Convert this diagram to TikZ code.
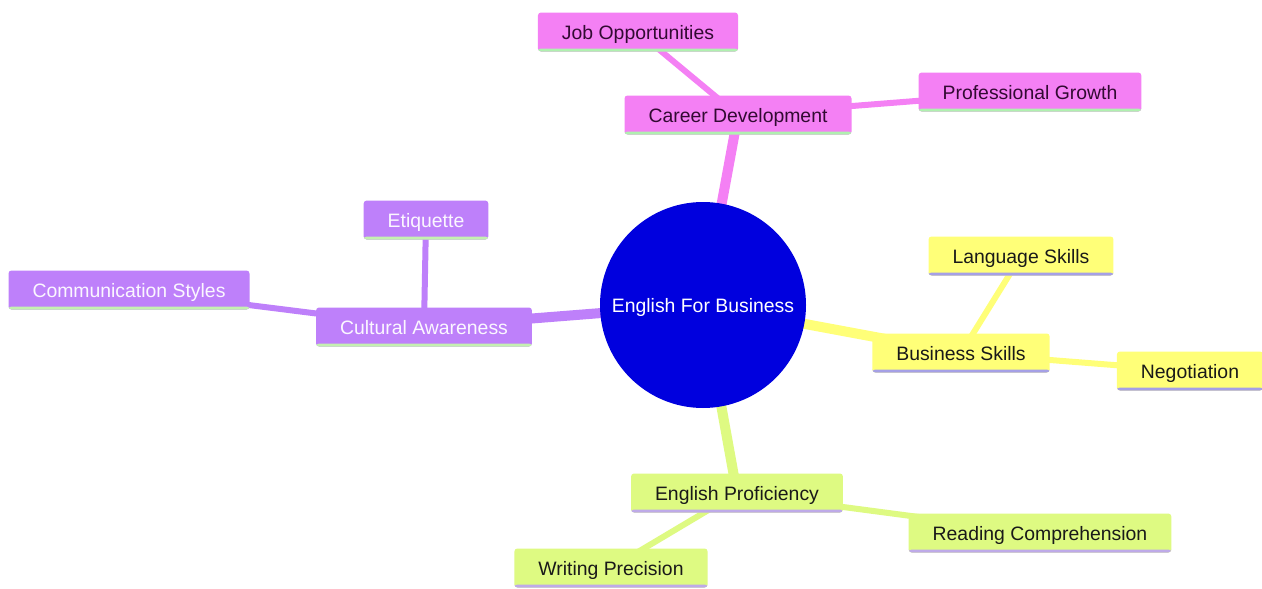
\documentclass[tikz,border=0pt]{standalone}
\usepackage{fontspec}
\setmainfont{Liberation Sans}
\definecolor{cpink}{RGB}{244,128,244}
\definecolor{cpinkt}{RGB}{50,10,50}
\definecolor{cpinkul}{RGB}{176,240,176}
\definecolor{cpurple}{RGB}{190,128,250}
\definecolor{cpurpleul}{RGB}{196,240,176}
\definecolor{cyellow}{RGB}{255,255,120}
\definecolor{cyellowul}{RGB}{165,160,230}
\definecolor{cgreen}{RGB}{222,250,130}
\definecolor{cgreenul}{RGB}{190,170,232}
\definecolor{cblue}{RGB}{0,0,222}
\pgfdeclarelayer{bg}
\pgfsetlayers{bg,main}
\begin{document}
\begin{tikzpicture}[x=1pt,y=-1pt,
  every node/.style={font=\fontsize{19.4}{23}\selectfont},
  box/.style={rectangle, rounded corners=3pt, inner xsep=24pt, inner ysep=0pt, minimum height=39pt, text height=19pt, text depth=4pt},
  ul/.style={path picture={\fill[#1] ([yshift=3pt]path picture bounding box.south west) rectangle (path picture bounding box.south east);}},
  pinkbox/.style={box, fill=cpink, text=cpinkt, ul=cpinkul},
  purplebox/.style={box, fill=cpurple, text=white!94!cpurple, ul=cpurpleul},
  yellowbox/.style={box, fill=cyellow, text=black!90, ul=cyellowul},
  greenbox/.style={box, fill=cgreen, text=black!90, ul=cgreenul},
  main/.style={line width=10pt},
  sub/.style={line width=6pt}
]
\useasboundingbox (0,0) rectangle (1262,589);

\node[circle, fill=cblue, minimum size=206pt, inner sep=0pt, text=white, text height=19pt, text depth=4pt] (root) at (703,305) {English For Business};

\node[pinkbox] (career) at (738,115) {Career Development};
\node[pinkbox] (job) at (638,32) {Job Opportunities};
\node[pinkbox] (prof) at (1030,92) {Professional Growth};

\node[purplebox] (cult) at (424,327) {Cultural Awareness};
\node[purplebox] (etiq) at (426,220) {Etiquette};
\node[purplebox] (comm) at (129,290) {Communication Styles};

\node[yellowbox] (bus) at (961,353) {Business Skills};
\node[yellowbox] (lang) at (1021,256) {Language Skills};
\node[yellowbox] (nego) at (1190,371) {Negotiation};

\node[greenbox] (engp) at (737,493) {English Proficiency};
\node[greenbox] (read) at (1040,533) {Reading Comprehension};
\node[greenbox] (writ) at (611,568) {Writing Precision};

\begin{pgfonlayer}{bg}
\fill[white] (0,0) rectangle (1262,589);
\draw[cpink, main] (root.center) -- (career.center);
\draw[cpink, sub] (career.center) -- (job.center);
\draw[cpink, sub] (career.center) -- (prof.center);
\draw[cpurple, main] (root.center) -- (cult.center);
\draw[cpurple, sub] (cult.center) -- (etiq.center);
\draw[cpurple, sub] (cult.center) -- (comm.center);
\draw[cyellow, main] (root.center) -- (bus.center);
\draw[cyellow, sub] (bus.center) -- (lang.center);
\draw[cyellow, sub] (bus.center) -- (nego.center);
\draw[cgreen, main] (root.center) -- (engp.center);
\draw[cgreen, sub] (engp.center) -- (read.center);
\draw[cgreen, sub] (engp.center) -- (writ.center);
\end{pgfonlayer}
\end{tikzpicture}
\end{document}
